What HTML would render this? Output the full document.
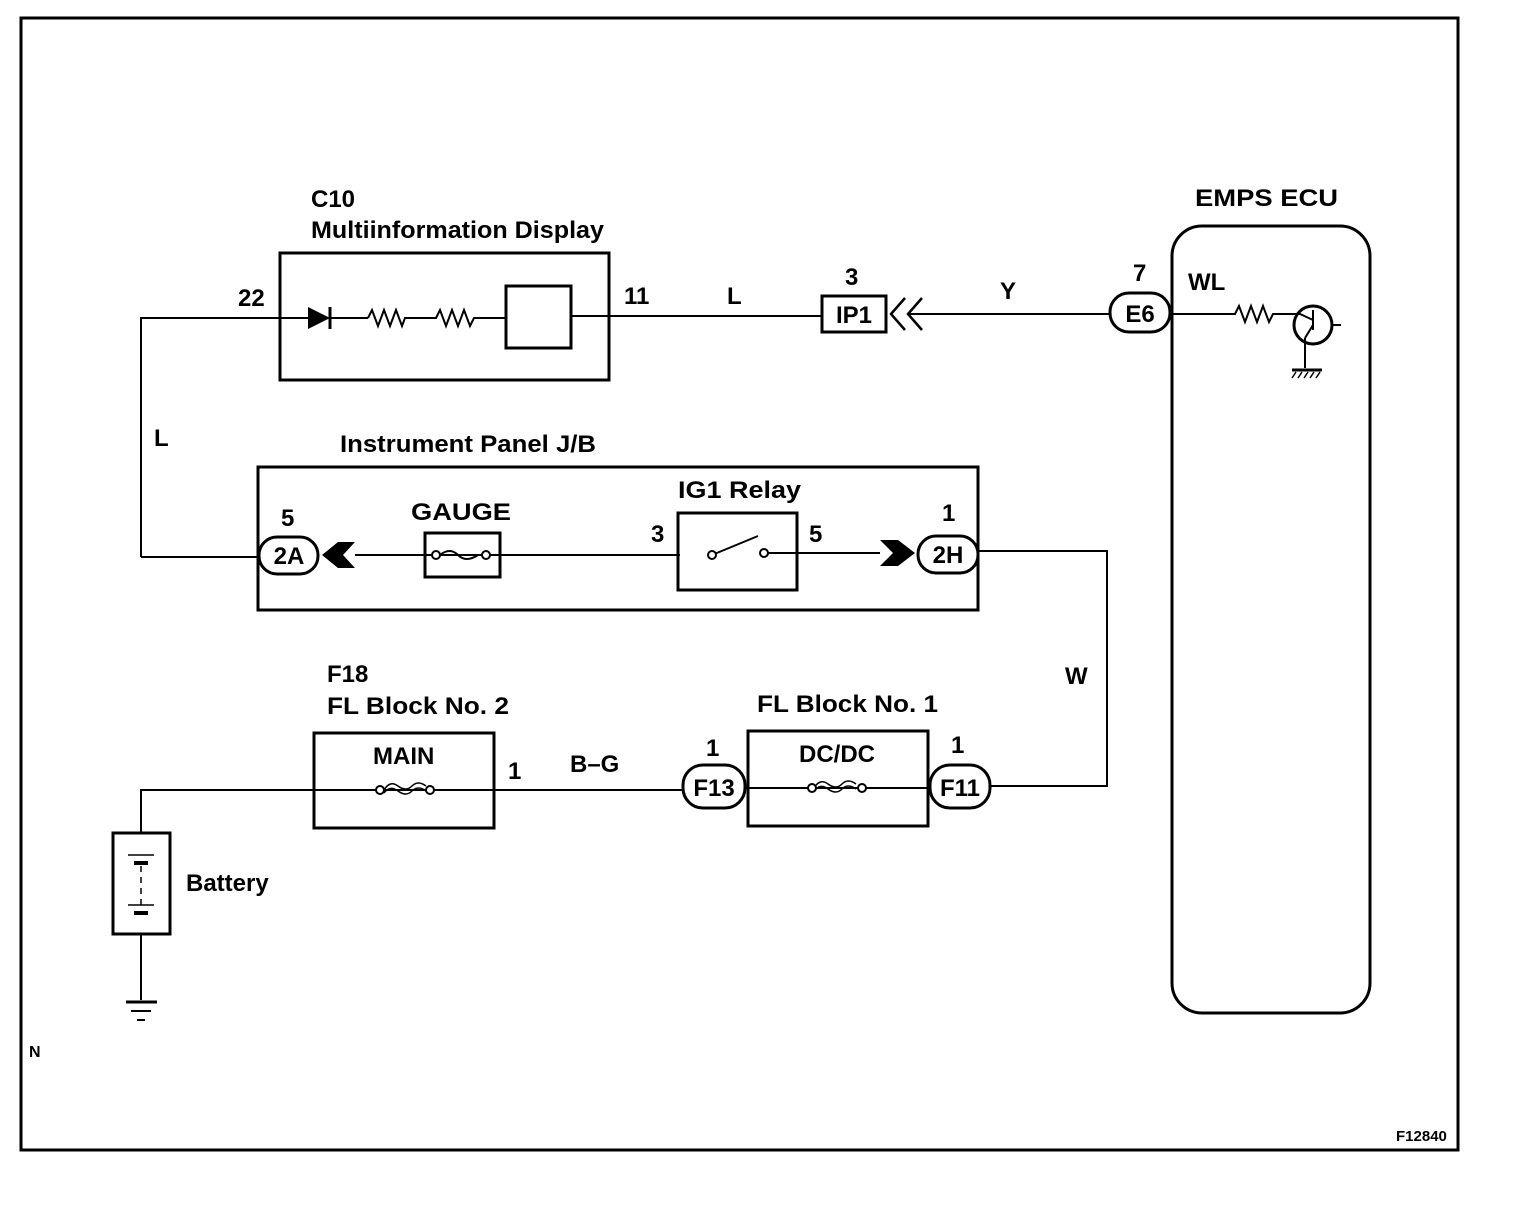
<!DOCTYPE html>
<html><head><style>html,body{margin:0;padding:0;background:#fff}svg{display:block}text{font-family:"Liberation Sans",Arial,sans-serif;fill:#000;font-weight:bold}</style></head><body>
<svg width="1520" height="1214" viewBox="0 0 1520 1214" xmlns="http://www.w3.org/2000/svg">
<g fill="none" stroke="#000">
<rect x="21" y="18" width="1437" height="1132" stroke-width="3"/>
<rect x="280" y="253" width="329" height="127" stroke-width="3"/>
<rect x="506" y="286" width="65" height="62" stroke-width="3"/>
<polyline points="141,557 141,318 308,318" stroke-width="2"/>
<line x1="330" y1="318" x2="368" y2="318" stroke-width="2"/>
<polyline points="368,318 372,310 378,326 384,310 390,326 396,310 402,326 405,318 436,318 440,310 446,326 452,310 458,326 464,310 470,326 474,318 506,318" stroke-width="2"/>
<line x1="330" y1="307" x2="330" y2="329" stroke-width="3"/>
<polyline points="571,316 822,316" stroke-width="2"/>
<rect x="822" y="296" width="64" height="36" stroke-width="3"/>
<polyline points="905,298 891,314 905,330" stroke-width="2.5"/>
<polyline points="922,298 908,314 922,330" stroke-width="2.5"/>
<line x1="908" y1="314" x2="1110" y2="314" stroke-width="2"/>
<rect x="1110" y="293" width="60" height="39" rx="19" stroke-width="3"/>
<rect x="1172" y="226" width="198" height="787" rx="30" stroke-width="3"/>
<polyline points="1172,314 1235,314 1239,306 1245,322 1251,306 1257,322 1263,306 1269,322 1273,314 1300,314 1313,320" stroke-width="2"/>
<circle cx="1313" cy="325" r="19" stroke-width="3"/>
<line x1="1313" y1="310" x2="1313" y2="330" stroke-width="2"/>
<line x1="1332" y1="325" x2="1341" y2="325" stroke-width="2"/>
<line x1="1313" y1="325" x2="1305" y2="338" stroke-width="2"/>
<line x1="1305" y1="338" x2="1305" y2="368" stroke-width="2"/>
<line x1="1292" y1="370" x2="1322" y2="370" stroke-width="3"/>
<path d="M1296 372 l-4 6 M1302 372 l-4 6 M1308 372 l-4 6 M1314 372 l-4 6 M1320 372 l-4 6" stroke-width="1.5"/>
<rect x="258" y="467" width="720" height="143" stroke-width="3"/>
<line x1="141" y1="557" x2="259" y2="557" stroke-width="2"/>
<rect x="259" y="537" width="59" height="37" rx="18" stroke-width="3"/>
<line x1="355" y1="555" x2="680" y2="555" stroke-width="2"/>
<rect x="425" y="533" width="75" height="44" stroke-width="3"/>
<path d="M440 555 q10 -8 18 0 q8 8 20 0" stroke-width="2"/>
<circle cx="436" cy="555" r="4" fill="#fff" stroke-width="2"/>
<circle cx="486" cy="555" r="4" fill="#fff" stroke-width="2"/>
<rect x="678" y="513" width="119" height="77" stroke-width="3"/>
<line x1="712" y1="555" x2="758" y2="536" stroke-width="2"/>
<circle cx="712" cy="555" r="4" fill="#fff" stroke-width="2"/>
<circle cx="764" cy="553" r="4" fill="#fff" stroke-width="2"/>
<line x1="768" y1="553" x2="880" y2="553" stroke-width="2"/>
<rect x="918" y="536" width="60" height="37" rx="18" stroke-width="3"/>
<polyline points="978,551 1107,551 1107,786 990,786" stroke-width="2"/>
<rect x="314" y="733" width="180" height="95" stroke-width="3"/>
<rect x="748" y="731" width="180" height="95" stroke-width="3"/>
<polyline points="141,833 141,790 683,790" stroke-width="2"/>
<path d="M384 790 q6 -10 14 -4 q8 6 14 0 q6 -6 14 0 M384 793 q6 -8 14 -2 q8 6 14 0 q6 -6 14 0" stroke-width="1.5"/>
<circle cx="380" cy="790" r="4" fill="#fff" stroke-width="2"/>
<circle cx="430" cy="790" r="4" fill="#fff" stroke-width="2"/>
<rect x="683" y="765" width="62" height="43" rx="20" stroke-width="3"/>
<line x1="745" y1="788" x2="930" y2="788" stroke-width="2"/>
<path d="M814 788 q6 -10 14 -4 q8 6 14 0 q6 -6 14 0 M814 791 q6 -8 14 -2 q8 6 14 0 q6 -6 14 0" stroke-width="1.5"/>
<circle cx="812" cy="788" r="4" fill="#fff" stroke-width="2"/>
<circle cx="862" cy="788" r="4" fill="#fff" stroke-width="2"/>
<rect x="930" y="765" width="60" height="43" rx="20" stroke-width="3"/>
<rect x="113" y="833" width="57" height="101" stroke-width="3"/>
<line x1="141" y1="934" x2="141" y2="1000" stroke-width="2"/>
<line x1="128" y1="855" x2="154" y2="855" stroke-width="1.5"/>
<line x1="134" y1="863" x2="148" y2="863" stroke-width="4"/>
<line x1="141" y1="866" x2="141" y2="905" stroke-width="1.5" stroke-dasharray="6,5"/>
<line x1="128" y1="905" x2="154" y2="905" stroke-width="1.5"/>
<line x1="134" y1="913" x2="148" y2="913" stroke-width="4"/>
<line x1="126" y1="1002" x2="157" y2="1002" stroke-width="3"/>
<line x1="131" y1="1011" x2="151" y2="1011" stroke-width="2"/>
<line x1="137" y1="1020" x2="145" y2="1020" stroke-width="2"/>
</g>
<polygon points="308,307 330,318 308,329" fill="#000"/>
<polygon points="322,555 338,542 355,542 343,555 355,568 338,568" fill="#000"/>
<polygon points="880,540 898,540 915,553 898,566 880,566 893,553" fill="#000"/>
<g font-size="24">
<text x="311" y="207">C10</text>
<text x="311" y="238" textLength="293" lengthAdjust="spacingAndGlyphs">Multiinformation Display</text>
<text x="238" y="306">22</text>
<text x="624" y="304">11</text>
<text x="727" y="304">L</text>
<text x="845" y="285">3</text>
<text x="854" y="323" text-anchor="middle">IP1</text>
<text x="1000" y="299">Y</text>
<text x="1133" y="281">7</text>
<text x="1140" y="322" text-anchor="middle">E6</text>
<text x="1195" y="206" textLength="143" lengthAdjust="spacingAndGlyphs">EMPS ECU</text>
<text x="1188" y="290">WL</text>
<text x="154" y="446">L</text>
<text x="340" y="452" textLength="256" lengthAdjust="spacingAndGlyphs">Instrument Panel J/B</text>
<text x="281" y="526">5</text>
<text x="289" y="564" text-anchor="middle">2A</text>
<text x="411" y="520" textLength="100" lengthAdjust="spacingAndGlyphs">GAUGE</text>
<text x="678" y="498" textLength="123" lengthAdjust="spacingAndGlyphs">IG1 Relay</text>
<text x="651" y="542">3</text>
<text x="809" y="542">5</text>
<text x="942" y="521">1</text>
<text x="948" y="563" text-anchor="middle">2H</text>
<text x="1065" y="684">W</text>
<text x="327" y="682">F18</text>
<text x="327" y="714" textLength="182" lengthAdjust="spacingAndGlyphs">FL Block No. 2</text>
<text x="373" y="764">MAIN</text>
<text x="508" y="779">1</text>
<text x="570" y="772">B–G</text>
<text x="706" y="756">1</text>
<text x="714" y="796" text-anchor="middle">F13</text>
<text x="757" y="712" textLength="181" lengthAdjust="spacingAndGlyphs">FL Block No. 1</text>
<text x="799" y="762">DC/DC</text>
<text x="951" y="753">1</text>
<text x="960" y="796" text-anchor="middle">F11</text>
<text x="186" y="891" font-weight="normal">Battery</text>
</g>
<text x="29" y="1057" font-size="16" font-weight="normal">N</text>
<text x="1396" y="1141" font-size="15">F12840</text>
</svg>
</body></html>
